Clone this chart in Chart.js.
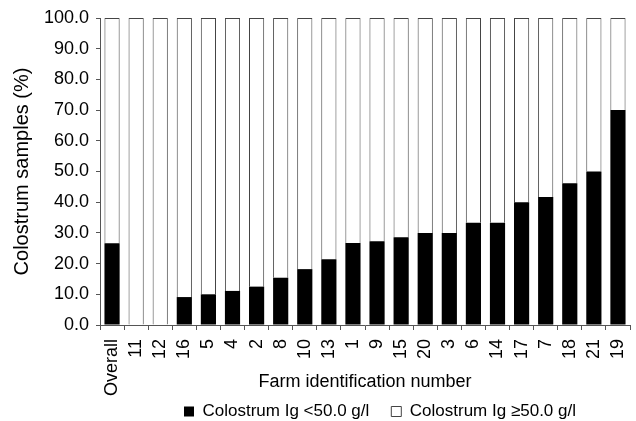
<!DOCTYPE html>
<html>
<head>
<meta charset="utf-8">
<script src="https://cdn.jsdelivr.net/npm/chart.js@4"></script>
<style>
    html, body {margin: 0; padding: 0; background: #fff;}
    #wrap {width: 636px; height: 421px;}
</style>
</head>
<body>
<div id="wrap"><canvas id="myChart" width="636" height="421"></canvas></div>
<script>
const farms = ["Overall", "11", "12", "16", "5", "4", "2", "8", "10", "13", "1",
    "9", "15", "20", "3", "6", "14", "17", "7", "18", "21", "19"];
const lowIg = [26.6, 0, 0, 9.1, 10.0, 11.1, 12.5, 15.4, 18.2, 21.4, 26.7,
    27.3, 28.6, 30.0, 30.0, 33.3, 33.3, 40.0, 41.7, 46.2, 50.0, 70.0];
const highIg = [73.4, 100, 100, 90.9, 90.0, 88.9, 87.5, 84.6, 81.8, 78.6, 73.3,
    72.7, 71.4, 70.0, 70.0, 66.7, 66.7, 60.0, 58.3, 53.8, 50.0, 30.0];
const yTicks = [0, 10, 20, 30, 40, 50, 60, 70, 80, 90, 100];

const font = "'Liberation Sans', Arial, sans-serif";
const axisColor = "#555";

// legend sits a bit right of centre and closer to the bottom than chart.js puts it
const legendShift = {
    id: "legendShift",
    afterLayout(chart) {
        const lg = chart.legend;
        const dx = 65, dy = -17;
        lg.left += dx;
        lg.right += dx;
        lg.top += dy;
        lg.bottom += dy;
    }
};

new Chart("myChart", {
    type: "bar",
    data: {
        labels: farms,
        datasets: [{
            label: "Colostrum Ig <50.0 g/l",
            data: lowIg,
            backgroundColor: "#000",
            borderColor: "#000",
            borderWidth: 0,
            categoryPercentage: 1,
            barPercentage: 0.63
        }, {
            label: "Colostrum Ig \u226550.0 g/l",
            data: highIg,
            backgroundColor: "#fff",
            borderColor: "#444",
            borderWidth: 1,
            categoryPercentage: 1,
            barPercentage: 0.63
        }]
    },
    plugins: [legendShift],
    options: {
        responsive: false,
        animation: false,
        layout: {padding: {top: 18, right: 6, left: 0, bottom: -26}},
        plugins: {
            tooltip: {enabled: false},
            legend: {
                position: "bottom",
                labels: {
                    font: {family: font, size: 17},
                    color: "#000",
                    boxWidth: 10,
                    boxHeight: 10,
                    padding: 22
                }
            }
        },
        scales: {
            x: {
                stacked: true,
                afterFit: (scale) => {
                    scale.height = 73;
                    scale.paddingLeft = 0;
                    scale.paddingRight = 0;
                },
                grid: {drawOnChartArea: false, offset: true, tickLength: 5, color: axisColor},
                border: {color: axisColor},
                ticks: {
                    autoSkip: false,
                    minRotation: 90,
                    maxRotation: 90,
                    padding: 9,
                    color: "#000",
                    font: {family: font, size: 18}
                },
                title: {
                    display: true,
                    text: "Farm identification number",
                    color: "#000",
                    font: {family: font, size: 18},
                    padding: {top: 0, bottom: 5}
                }
            },
            y: {
                stacked: true,
                min: 0,
                max: 100,
                afterFit: (scale) => {
                    scale.width = 100;
                    scale.paddingTop = 0;
                    scale.paddingBottom = 0;
                },
                afterBuildTicks: (scale) => { scale.ticks = yTicks.map(v => ({value: v})); },
                grid: {drawOnChartArea: false, tickLength: 4, color: axisColor},
                border: {color: axisColor},
                ticks: {
                    padding: 7,
                    color: "#000",
                    font: {family: font, size: 18},
                    callback: (v) => v.toFixed(1)
                },
                title: {
                    display: true,
                    text: "Colostrum samples (%)",
                    color: "#000",
                    font: {family: font, size: 20},
                    padding: {top: 10, bottom: 0}
                }
            }
        }
    }
});
</script>
</body>
</html>
